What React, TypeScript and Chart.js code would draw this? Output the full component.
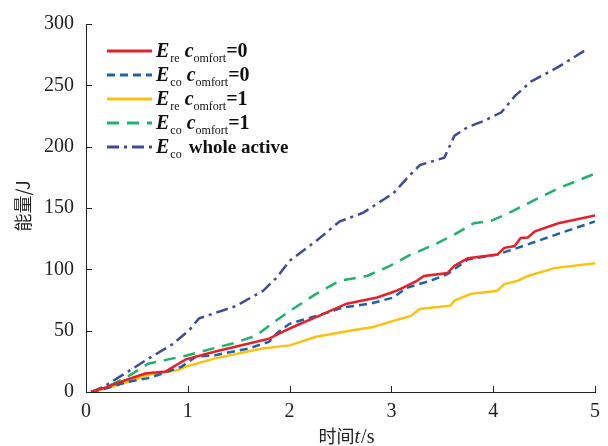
import React, { useEffect, useRef } from "react";
import { Chart, registerables } from "chart.js";

Chart.register(...registerables);

// time (s) / energy (J) for each series
const reC0T = [0.05, 0.2, 0.4, 0.58, 0.78, 0.98, 1.27, 1.6, 1.8, 1.93, 2.06, 2.26, 2.56, 2.86, 3.05, 3.25, 3.32, 3.55, 3.62, 3.75, 4.04, 4.11, 4.21, 4.27, 4.34, 4.41, 4.64, 5.0];
const reC0V = [0, 4, 10, 15, 16.7, 26.6, 33, 39.5, 43.5, 49, 54, 61, 72, 77, 82.5, 90.6, 94.6, 97, 103, 109, 112, 117.5, 119, 125.5, 126, 131, 137.6, 144];

const coC0T = [0.05, 0.2, 0.4, 0.61, 0.75, 0.94, 1.08, 1.27, 1.6, 1.8, 1.87, 2.0, 2.26, 2.53, 2.79, 3.02, 3.15, 3.38, 3.55, 3.75, 4.04, 4.24, 4.57, 5.0];
const coC0V = [0, 3, 8, 11.3, 15, 20.7, 28.8, 30, 35.5, 41, 47.6, 55.6, 62, 69, 72, 77, 85, 90.6, 96, 108, 112, 117.5, 127, 139];

const reC1T = [0.05, 0.2, 0.4, 0.61, 0.91, 0.98, 1.27, 1.73, 2.0, 2.26, 2.59, 2.82, 3.02, 3.19, 3.28, 3.58, 3.62, 3.78, 4.04, 4.11, 4.24, 4.34, 4.6, 5.0];
const reC1V = [0, 3, 8, 14, 18, 20.7, 27.4, 35.5, 38, 45, 50, 53, 58, 62, 67.7, 70.4, 74.5, 80, 82.5, 88, 90.6, 94.6, 101, 105];

const coC1T = [0.05, 0.2, 0.4, 0.61, 1.0, 1.27, 1.44, 1.67, 1.83, 2.0, 2.26, 2.49, 2.76, 2.99, 3.19, 3.42, 3.61, 3.81, 3.98, 4.18, 4.37, 4.64, 5.0];
const coC1V = [0, 4, 12, 23, 30, 36, 39.5, 46, 56, 66, 80, 90.6, 94.6, 103, 112, 120, 128, 137.6, 139.5, 147, 155, 166, 178];

const wholeT = [0.05, 0.18, 0.4, 0.61, 0.85, 1.01, 1.11, 1.47, 1.74, 1.87, 2.0, 2.26, 2.49, 2.72, 3.02, 3.15, 3.28, 3.52, 3.62, 3.75, 3.91, 4.08, 4.21, 4.37, 4.64, 4.93];
const wholeV = [0, 4.6, 16, 27, 39, 50, 60, 70, 82.5, 93, 107, 123, 139, 146, 162, 174, 185, 191, 209, 216, 221, 228, 241, 253, 265, 280];

const xTicks = [0, 1, 2, 3, 4, 5];
const yTicks = [0, 50, 100, 150, 200, 250, 300];

const seriesNames = [
  ["E", "re", "c", "omfort", "=0"],
  ["E", "co", "c", "omfort", "=0"],
  ["E", "re", "c", "omfort", "=1"],
  ["E", "co", "c", "omfort", "=1"],
  ["E", "co", "", "", "whole active"],
];

const colors = ["#e5202a", "#1f62a8", "#fbc10e", "#1eb26c", "#3f4b98"];
const dashes: number[][] = [[], [8, 5], [], [12, 8], [12, 5, 3, 5]];

const pts = (t: number[], v: number[]) => t.map((x, i) => ({ x, y: v[i] }));

const SERIF = "'Liberation Serif', 'DejaVu Serif', serif";
const CJK = "'Noto Sans CJK SC', sans-serif";

export default function App() {
  const ref = useRef<HTMLCanvasElement | null>(null);

  useEffect(() => {
    const canvas = ref.current;
    if (!canvas) return;

    const decor = {
      id: "decor",
      afterDraw(chart: any) {
        const ctx = chart.ctx as CanvasRenderingContext2D;
        const xs = chart.scales.x;
        const ys = chart.scales.y;
        const area = chart.chartArea;
        ctx.save();
        // inward ticks
        ctx.strokeStyle = "#222";
        ctx.lineWidth = 1;
        ctx.setLineDash([]);
        xTicks.forEach((t) => {
          const px = Math.round(xs.getPixelForValue(t)) + 0.5;
          ctx.beginPath();
          ctx.moveTo(px, area.bottom);
          ctx.lineTo(px, area.bottom - 6);
          ctx.stroke();
        });
        yTicks.forEach((t) => {
          const py = Math.round(ys.getPixelForValue(t)) + 0.5;
          ctx.beginPath();
          ctx.moveTo(area.left, py);
          ctx.lineTo(area.left + 6, py);
          ctx.stroke();
        });

        // axis titles
        ctx.fillStyle = "#222";
        ctx.textBaseline = "alphabetic";
        const p1 = "时间", p2 = "t", p3 = "/s";
        ctx.font = `18px ${CJK}`;
        const w1 = ctx.measureText(p1).width;
        ctx.font = `italic 20px ${SERIF}`;
        const w2 = ctx.measureText(p2).width;
        ctx.font = `20px ${SERIF}`;
        const w3 = ctx.measureText(p3).width;
        let x0 = 346 - (w1 + w2 + w3) / 2;
        const yb = 443;
        ctx.font = `18px ${CJK}`;
        ctx.fillText(p1, x0, yb);
        x0 += w1;
        ctx.font = `italic 20px ${SERIF}`;
        ctx.fillText(p2, x0, yb);
        x0 += w2 + 1;
        ctx.font = `20px ${SERIF}`;
        ctx.fillText(p3, x0, yb);

        ctx.save();
        ctx.translate(30, 206);
        ctx.rotate(-Math.PI / 2);
        ctx.textAlign = "center";
        ctx.font = `18px ${CJK}`;
        ctx.fillText("能量/J", 0, 0);
        ctx.restore();

        // legend
        const rowY = [51, 75, 99, 123, 147];
        seriesNames.forEach((parts, i) => {
          const y = rowY[i];
          ctx.strokeStyle = colors[i];
          ctx.lineWidth = 3;
          ctx.setLineDash(dashes[i]);
          ctx.beginPath();
          ctx.moveTo(107, y);
          ctx.lineTo(152, y);
          ctx.stroke();
          ctx.setLineDash([]);
          ctx.fillStyle = "#111";
          let x = 156;
          const base = y + 6;
          ctx.font = `italic bold 20px ${SERIF}`;
          ctx.fillText(parts[0], x, base);
          x += ctx.measureText(parts[0]).width + 1;
          ctx.font = `12px ${SERIF}`;
          ctx.fillText(parts[1], x, base + 5);
          x += ctx.measureText(parts[1]).width + 5;
          if (parts[2]) {
            ctx.font = `italic bold 20px ${SERIF}`;
            ctx.fillText(parts[2], x, base);
            x += ctx.measureText(parts[2]).width;
            ctx.font = `12px ${SERIF}`;
            ctx.fillText(parts[3], x, base + 5);
            x += ctx.measureText(parts[3]).width;
            ctx.font = `bold 20px ${SERIF}`;
            ctx.fillText(parts[4], x, base);
          } else {
            ctx.font = `bold 19px ${SERIF}`;
            ctx.fillText(parts[4], x + 2, base);
          }
        });
        ctx.restore();
      },
    };

    const datasets = [
      pts(reC0T, reC0V),
      pts(coC0T, coC0V),
      pts(reC1T, reC1V),
      pts(coC1T, coC1V),
      pts(wholeT, wholeV),
    ].map((data, i) => ({
      label: seriesNames[i].join(""),
      data,
      borderColor: colors[i],
      backgroundColor: colors[i],
      borderWidth: 2.5,
      borderDash: dashes[i],
      pointRadius: 0,
      tension: 0,
      fill: false,
    }));

    const chart = new Chart(canvas, {
      type: "line",
      data: { datasets },
      plugins: [decor],
      options: {
        responsive: false,
        animation: false,
        layout: { padding: { left: 0, right: 11, top: 22, bottom: 0 } },
        plugins: { legend: { display: false }, tooltip: { enabled: false } },
        scales: {
          x: {
            type: "linear",
            min: 0,
            max: 5,
            afterFit: (s: any) => { s.height = 54; },
            afterBuildTicks: (s: any) => { s.ticks = xTicks.map((v) => ({ value: v })); },
            grid: { display: false, drawTicks: false },
            border: { display: true, color: "#222", width: 1 },
            ticks: { color: "#222", font: { family: SERIF, size: 20 }, padding: 8, maxRotation: 0 },
          },
          y: {
            type: "linear",
            min: 0,
            max: 300,
            afterFit: (s: any) => { s.width = 86; },
            afterBuildTicks: (s: any) => { s.ticks = yTicks.map((v) => ({ value: v })); },
            grid: { display: false, drawTicks: false },
            border: { display: true, color: "#222", width: 1 },
            ticks: { color: "#222", font: { family: SERIF, size: 20 }, padding: 12 },
          },
        },
      },
    });
    return () => chart.destroy();
  }, []);

  return (
    <div style={{ position: "fixed", left: 0, top: 0, width: 608, height: 446, background: "#fff" }}>
      <canvas ref={ref} width={608} height={446} style={{ width: 608, height: 446 }} />
    </div>
  );
}
